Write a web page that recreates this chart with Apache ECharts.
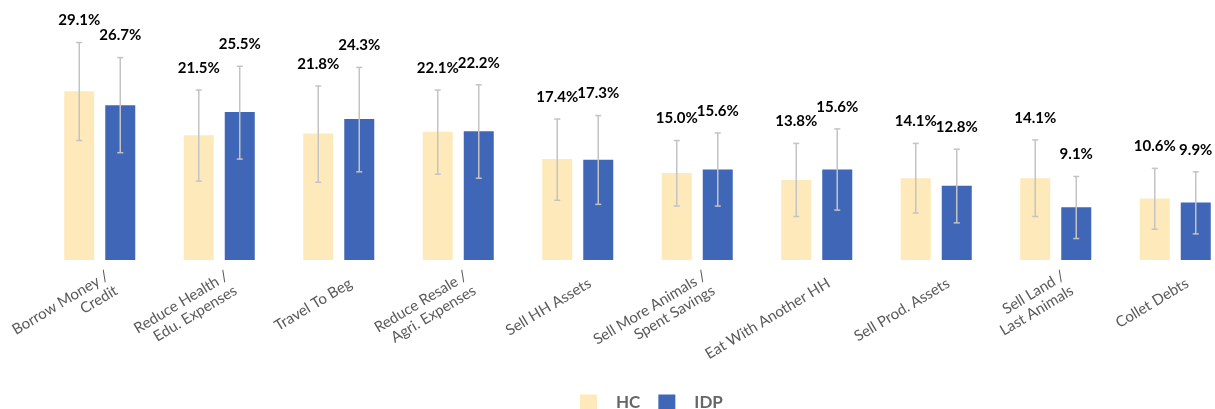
<!DOCTYPE html>
<html>
<head>
<meta charset="utf-8">
<script src="https://cdn.jsdelivr.net/npm/echarts@6/dist/echarts.min.js"></script>
<style>
html,body{margin:0;padding:0;background:#fff;}
#chart{width:1215px;height:409px;}
</style>
</head>
<body>
<div id="chart"></div>
<script>
const categories = [
  'Borrow Money /\nCredit',
  'Reduce Health /\nEdu. Expenses',
  'Travel To Beg',
  'Reduce Resale /\nAgri. Expenses',
  'Sell HH Assets',
  'Sell More Animals /\nSpent Savings',
  'Eat With Another HH',
  'Sell Prod. Assets',
  'Sell Land /\nLast Animals',
  'Collet Debts'
];
const hcValues  = [29.1, 21.5, 21.8, 22.1, 17.4, 15.0, 13.8, 14.1, 14.1, 10.6];
const idpValues = [26.7, 25.5, 24.3, 22.2, 17.3, 15.6, 15.6, 12.8, 9.1, 9.9];
const hcLow   = [20.6, 13.6, 13.4, 14.8, 10.3, 9.3, 7.5, 8.1, 7.5, 5.3];
const hcHigh  = [37.5, 29.3, 30.0, 29.3, 24.3, 20.6, 20.1, 20.1, 20.7, 15.8];
const idpLow  = [18.5, 17.4, 15.2, 14.1, 9.6, 9.3, 8.6, 6.4, 3.7, 4.5];
const idpHigh = [34.9, 33.4, 33.2, 30.2, 24.9, 21.9, 22.6, 19.1, 14.4, 15.2];

const BAR_W = 30;
const BAR_GAP_PX = 11;
const HC_COLOR = '#FEE9BA';
const IDP_COLOR = '#4067B7';
const ERR_COLOR = '#C3C3C3';

function errData(values, lows, highs) {
  return values.map((v, i) => [i, lows[i], highs[i], v]);
}

function makeErrRender(sign) {
  return function (params, api) {
    const i = api.value(0);
    const lo = api.coord([i, api.value(1)]);
    const hi = api.coord([i, api.value(2)]);
    const x = lo[0] + sign * (BAR_W + BAR_GAP_PX) / 2;
    const cap = 3;
    const style = { stroke: ERR_COLOR, lineWidth: 1.5 };
    return {
      type: 'group',
      children: [
        { type: 'line', shape: { x1: x, y1: hi[1], x2: x, y2: lo[1] }, style: style },
        { type: 'line', shape: { x1: x - cap, y1: hi[1], x2: x + cap, y2: hi[1] }, style: style },
        { type: 'line', shape: { x1: x - cap, y1: lo[1], x2: x + cap, y2: lo[1] }, style: style },
        {
          type: 'text',
          style: {
            text: api.value(3).toFixed(1) + '%',
            x: x, y: hi[1] - 22,
            align: 'center', verticalAlign: 'middle',
            fill: '#000', font: 'bold 15px Lato'
          }
        }
      ]
    };
  };
}

const chart = echarts.init(document.getElementById('chart'), null, { renderer: 'canvas' });
chart.setOption({
  animation: false,
  backgroundColor: '#fff',
  grid: [
    { left: 40, right: -20, top: 28, height: 232, containLabel: false, outerBoundsMode: 'none' },
    { left: 52, right: -32, top: 28, height: 232, containLabel: false, outerBoundsMode: 'none' }
  ],
  legend: {
    data: ['HC', 'IDP'],
    left: 575,
    top: 389,
    itemWidth: 17,
    itemHeight: 16,
    itemGap: 18,
    icon: 'rect',
    textStyle: { fontFamily: 'Lato', fontWeight: 'bold', fontSize: 17, color: '#666', padding: [0, 0, 0, 14] }
  },
  xAxis: [
    {
      type: 'category', gridIndex: 0, data: categories,
      axisLine: { show: false }, axisTick: { show: false }, axisLabel: { show: false }
    },
    {
      type: 'category', gridIndex: 1, data: categories,
      axisLine: { show: false }, axisTick: { show: false },
      axisLabel: {
        interval: 0, rotate: 31, margin: 22,
        fontFamily: 'Lato', fontSize: 15, color: '#595959', lineHeight: 17
      }
    }
  ],
  yAxis: [
    { type: 'value', gridIndex: 0, min: 0, max: 40, show: false, splitLine: { show: false } },
    { type: 'value', gridIndex: 1, min: 0, max: 40, show: false, splitLine: { show: false } }
  ],
  series: [
    {
      name: 'HC', type: 'bar', xAxisIndex: 0, yAxisIndex: 0, data: hcValues,
      barWidth: BAR_W, barGap: (BAR_GAP_PX / BAR_W * 100).toFixed(1) + '%',
      itemStyle: { color: HC_COLOR }
    },
    {
      name: 'IDP', type: 'bar', xAxisIndex: 0, yAxisIndex: 0, data: idpValues,
      barWidth: BAR_W,
      itemStyle: { color: IDP_COLOR }
    },
    {
      name: 'HC err', type: 'custom', xAxisIndex: 0, yAxisIndex: 0,
      data: errData(hcValues, hcLow, hcHigh), renderItem: makeErrRender(-1), z: 5
    },
    {
      name: 'IDP err', type: 'custom', xAxisIndex: 0, yAxisIndex: 0,
      data: errData(idpValues, idpLow, idpHigh), renderItem: makeErrRender(1), z: 5
    }
  ]
});
</script>
</body>
</html>
